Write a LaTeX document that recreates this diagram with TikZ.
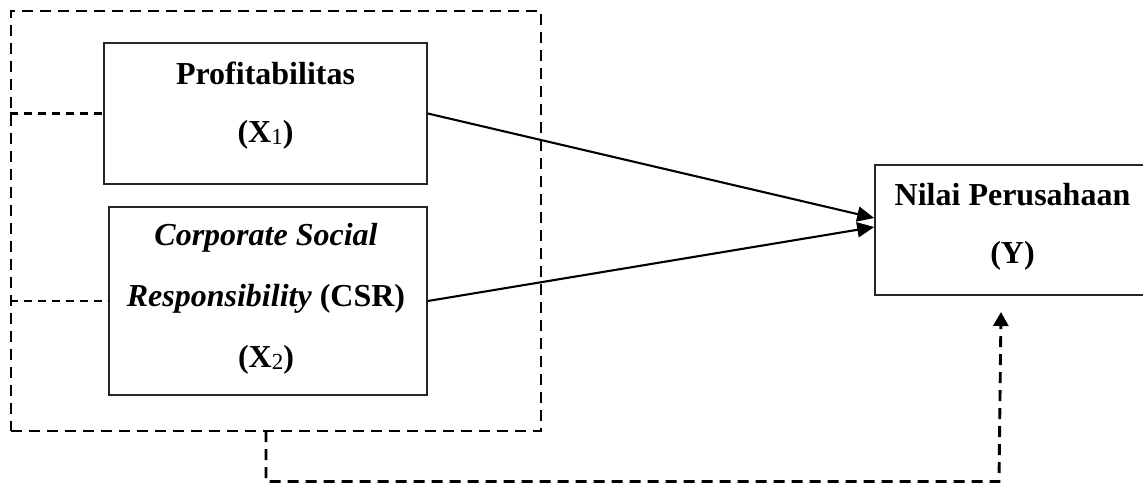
\documentclass[tikz,border=0pt]{standalone}
\usepackage{fontspec}
\setmainfont{Liberation Serif}
\usetikzlibrary{arrows.meta,calc}
\newcommand{\subn}[1]{\raisebox{-2pt}{\mdseries\fontsize{23}{23}\selectfont #1}}
\begin{document}
\begin{tikzpicture}[x=1pt,y=-1pt,
  box/.style={draw=black!85,line width=1.6pt,fill=none,inner sep=0pt},
  outerbox/.style={draw,line width=2.9pt,dash pattern=on 11pt off 7pt,inner sep=0pt},
  stubline/.style={line width=2.4pt,dash pattern=on 8pt off 6pt},
  arr/.style={line width=2.1pt,-{Triangle[length=17pt,width=15pt]}},
  darr/.style={line width=2.9pt,dash pattern=on 11pt off 7pt,-{Triangle[length=14pt,width=15pt]}},
  lbl/.style={anchor=base,inner sep=0pt,font=\bfseries\fontsize{32}{38}\selectfont}]
\clip (0,0) rectangle (1143,482);
\fill[white] (0,0) rectangle (1143,482);
% outer dashed group
\node[outerbox,minimum width=530pt,minimum height=420pt] (ob) at (276,221) {};
% boxes
\node[box,minimum width=323pt,minimum height=141pt] (p1) at (265.5,113.5) {};
\node[box,minimum width=318pt,minimum height=188pt] (p2) at (268,301) {};
\node[box,minimum width=275pt,minimum height=130pt] (ny) at (1012.5,230) {};
% texts
\node[lbl] (t1a) at (265.5,84) {Profitabilitas};
\node[lbl] (t1b) at (265.5,142) {(X\subn{1})};
\node[lbl] (t2a) at (266,245) {\itshape Corporate Social};
\node[lbl] (t2b) at (266,306) {\textit{Responsibility} (CSR)};
\node[lbl] (t2c) at (266,367) {(X\subn{2})};
\node[lbl] (t3a) at (1012.5,205) {Nilai Perusahaan};
\node[lbl] (t3b) at (1012.5,263) {(Y)};
% stubs
\draw[stubline] (ob.west |- p1.west) -- (p1.west);
\draw[stubline] (ob.west |- p2.west) -- (p2.west);
% arrows
\draw[arr] (p1.east) -- ($(ny.west)+(0,-12)$);
\draw[arr] (p2.east) -- ($(ny.west)+(0,-3)$);
% bottom dashed connector
\coordinate (s) at (266,431);
\coordinate (c1) at (266,481.5);
\coordinate (c2) at (999,481.5);
\coordinate (tt) at (1001,312);
\draw[darr] (s) -- (c1) -- (c2) -- (tt);
\end{tikzpicture}
\end{document}
